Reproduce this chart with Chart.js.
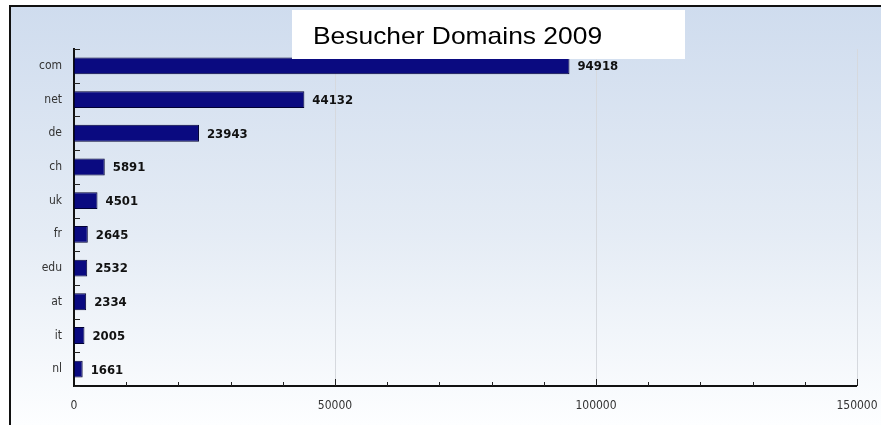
<!DOCTYPE html>
<html>
<head>
<meta charset="utf-8">
<script src="https://cdn.jsdelivr.net/npm/chart.js@4"></script>
<style>
  html, body { margin: 0; padding: 0; background: #fff; }
  #wrap { width: 881px; height: 425px; position: relative; }
</style>
</head>
<body>
<div id="wrap"><canvas id="c" width="881" height="425"></canvas></div>
<script>
// Daten
const domains = ['com', 'net', 'de', 'ch', 'uk', 'fr', 'edu', 'at', 'it', 'nl'];
const visitors = [94918, 44132, 23943, 5891, 4501, 2645, 2532, 2334, 2005, 1661];
const titleText = 'Besucher Domains 2009';
const xMax = 150000;

// Hintergrund, Rahmen und Titelbox
const framePlugin = {
  id: 'frame',
  beforeDraw(chart) {
    const ctx = chart.ctx;
    const w = chart.width, h = chart.height;
    ctx.save();
    const g = ctx.createLinearGradient(0, 6, 0, h);
    g.addColorStop(0, '#cfdcee');
    g.addColorStop(0.55, '#e5ecf5');
    g.addColorStop(1, '#fdfeff');
    ctx.fillStyle = g;
    ctx.fillRect(10, 6, w - 10, h - 6);
    ctx.strokeStyle = '#111';
    ctx.lineWidth = 2;
    ctx.beginPath();
    ctx.moveTo(10, h);
    ctx.lineTo(10, 6);
    ctx.lineTo(w, 6);
    ctx.stroke();
    ctx.restore();
  },
  afterDraw(chart) {
    const ctx = chart.ctx;
    const x = chart.scales.x, y = chart.scales.y;
    ctx.save();
    // Kategorie-Striche nach innen
    ctx.strokeStyle = '#222';
    ctx.lineWidth = 1;
    for (let i = 0; i <= domains.length; i++) {
      const py = Math.round(y.getPixelForValue(i - 0.5)) + 0.5;
      ctx.beginPath();
      ctx.moveTo(x.left, py);
      ctx.lineTo(x.left + 6, py);
      ctx.stroke();
    }
    // Striche auf der x-Achse nach innen
    for (let v = 10000; v <= xMax; v += 10000) {
      const px = Math.round(x.getPixelForValue(v)) + 0.5;
      const len = v % 50000 === 0 ? 7 : 4;
      ctx.beginPath();
      ctx.moveTo(px, x.top);
      ctx.lineTo(px, x.top - len);
      ctx.stroke();
    }
    // Titelbox
    ctx.fillStyle = '#ffffff';
    ctx.fillRect(292, 10, 393, 49);
    ctx.fillStyle = '#000';
    ctx.font = '24px "Liberation Sans", Arial, sans-serif';
    ctx.textBaseline = 'alphabetic';
    ctx.textAlign = 'left';
    ctx.save();
    ctx.translate(313, 44);
    ctx.scale(1.1, 1);
    ctx.fillText(titleText, 0, 0);
    ctx.restore();
    // Werte neben den Balken
    ctx.font = 'bold 13px "DejaVu Sans Condensed", "DejaVu Sans", sans-serif';
    ctx.fillStyle = '#111';
    ctx.textBaseline = 'middle';
    const meta = chart.getDatasetMeta(0);
    meta.data.forEach((bar, i) => {
      ctx.fillText(String(visitors[i]), bar.x + 8, bar.y + 1);
    });
    ctx.restore();
  }
};

new Chart(document.getElementById('c'), {
  type: 'bar',
  data: {
    labels: domains,
    datasets: [{
      data: visitors,
      backgroundColor: '#0a0a80',
      borderColor: '#000033',
      borderWidth: 1,
      borderSkipped: false,
      barPercentage: 0.5,
      categoryPercentage: 1
    }]
  },
  options: {
    indexAxis: 'y',
    responsive: false,
    animation: false,
    devicePixelRatio: 1,
    layout: { padding: { top: 49, right: 24, bottom: 0, left: 0 } },
    plugins: {
      legend: { display: false },
      tooltip: { enabled: false }
    },
    scales: {
      x: {
        min: 0,
        max: xMax,
        ticks: {
          stepSize: 50000,
          color: '#333',
          font: { family: '"DejaVu Sans Condensed", "DejaVu Sans", sans-serif', size: 12 },
          padding: 13,
          callback: (v) => String(v)
        },
        grid: {
          color: '#d6d9de',
          drawTicks: false,
          lineWidth: (ctx) => (ctx.tick && ctx.tick.value === 0 ? 0 : 1)
        },
        border: { color: '#111', width: 2 },
        afterFit(scale) {
          scale.height = 39;
          scale.paddingLeft = 0;
          scale.paddingRight = 0;
        }
      },
      y: {
        ticks: {
          color: '#333',
          font: { family: '"DejaVu Sans Condensed", "DejaVu Sans", sans-serif', size: 12 },
          padding: 12
        },
        grid: { display: false, drawTicks: false },
        border: { color: '#111', width: 2 },
        afterFit(scale) {
          scale.width = 74;
          scale.paddingTop = 0;
          scale.paddingBottom = 0;
        }
      }
    }
  },
  plugins: [framePlugin]
});
</script>
</body>
</html>
